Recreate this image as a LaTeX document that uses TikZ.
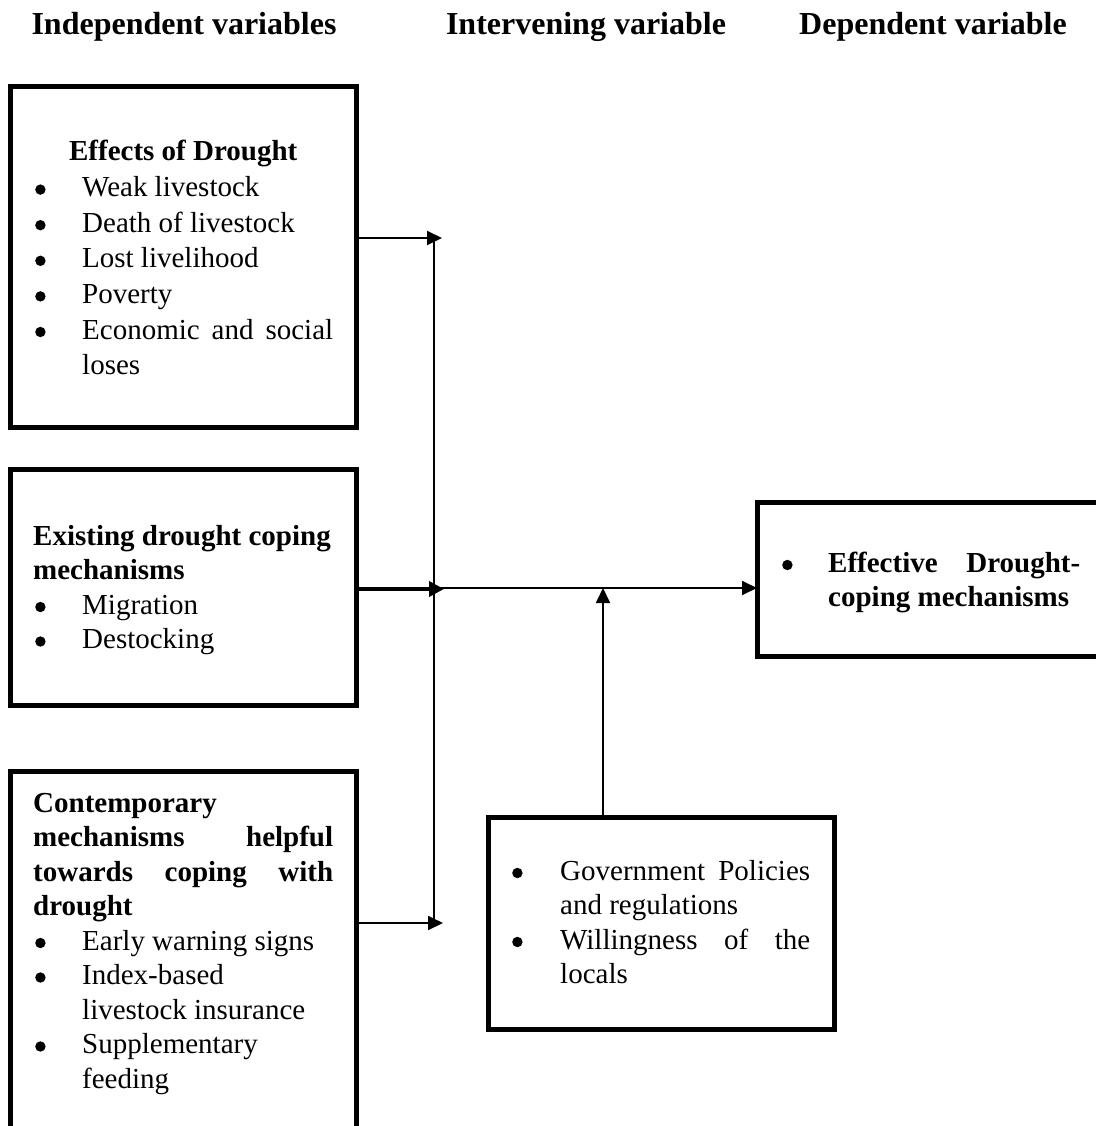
\documentclass[tikz,border=0pt]{standalone}
\usepackage{fontspec}
\setmainfont{Liberation Serif}
\usetikzlibrary{arrows.meta}
\newcommand{\dotb}{\tikz[baseline=0pt]\fill (0pt,7pt) circle (5.2pt);}
\newcommand{\bul}{\makebox[49pt][l]{\hspace{2pt}\dotb}}
\newcommand{\cont}{\hspace*{49pt}}
\newcommand{\jst}[2]{\makebox[#1][s]{\spaceskip=0pt\xspaceskip=0pt #2}}
\newcommand{\ns}{\spaceskip=0pt\xspaceskip=0pt}
\begin{document}
\begin{tikzpicture}[x=1pt,y=-1pt,
  frame/.style={draw, line width=5pt, inner sep=0pt, outer sep=0pt, anchor=north west},
  hdr/.style={font=\fontsize{32}{38}\selectfont\bfseries, anchor=base, inner sep=0pt},
  body/.style={font=\fontsize{29}{34.5}\selectfont, anchor=base west, inner sep=0pt, text width=340pt, align=left},
  thinln/.style={line width=1.8pt},
  arr/.style={line width=1.8pt, -{Triangle[length=15pt,width=14pt]}},
  thickarr/.style={line width=3.5pt, -{Triangle[length=15pt,width=15pt]}}]
\useasboundingbox (0,0) rectangle (1095,1126);

% headers
\node[hdr] (h1) at (184,35) {Independent variables};
\node[hdr] (h2) at (586,35) {Intervening variable};
\node[hdr] (h3) at (933,35) {Dependent variable};

% boxes
\node[frame, minimum width=346pt, minimum height=340pt] (b1) at (10,87) {};
\node[frame, minimum width=346pt, minimum height=236pt] (b2) at (10,469) {};
\node[frame, minimum width=346pt, minimum height=369pt] (b3) at (10,771) {};
\node[frame, minimum width=350pt, minimum height=154pt] (dep) at (757,502) {};
\node[frame, minimum width=346pt, minimum height=212pt] (gov) at (488,817) {};

% texts
\node[body, font=\fontsize{29}{35.6}\selectfont] (t1) at (33,161) {\ns
\makebox[300pt][c]{\bfseries Effects of Drought}\\
\bul Weak livestock\\
\bul Death of livestock\\
\bul Lost livelihood\\
\bul Poverty\\
\bul\jst{251pt}{Economic and social}\\
\cont loses};

\node[body] (t2) at (33,545) {\ns
\textbf{Existing drought coping}\\
\textbf{mechanisms}\\
\bul Migration\\
\bul Destocking};

\node[body] (t3) at (33,812) {\ns
\textbf{Contemporary}\\
\jst{300pt}{\bfseries mechanisms helpful}\\
\jst{300pt}{\bfseries towards coping with}\\
\textbf{drought}\\
\bul Early warning signs\\
\bul Index-based\\
\cont livestock insurance\\
\bul Supplementary\\
\cont feeding};

\node[body] (t4) at (510,880) {\ns
\makebox[50pt][l]{\hspace{2pt}\dotb}\jst{250pt}{Government Policies}\\
\hspace*{50pt}and regulations\\
\makebox[50pt][l]{\hspace{2pt}\dotb}\jst{250pt}{Willingness of the}\\
\hspace*{50pt}locals};

\node[body] (t5) at (780,572) {\ns
\makebox[48pt][l]{\hspace{2pt}\dotb}\jst{252pt}{\bfseries Effective Drought-}\\
\hspace*{48pt}\textbf{coping mechanisms}};

% connectors
\coordinate (vtop) at (434,240);
\coordinate (vbot) at (434,923);
\coordinate (tip1) at (442,238);
\coordinate (tip2) at (444,589);
\coordinate (tip3) at (443,923);
\coordinate (vmid) at (434,588);
\coordinate (gx) at (603,588);

\draw[thinln] (vtop) -- (vbot);
\draw[arr] (b1.east |- tip1) -- (tip1);
\draw[thickarr] (b2.east |- tip2) -- (tip2);
\draw[arr] (b3.east |- tip3) -- (tip3);
\draw[arr] (vmid) -- (dep.west |- vmid);
\draw[arr] (gx |- gov.north) -- (gx);
\end{tikzpicture}
\end{document}
